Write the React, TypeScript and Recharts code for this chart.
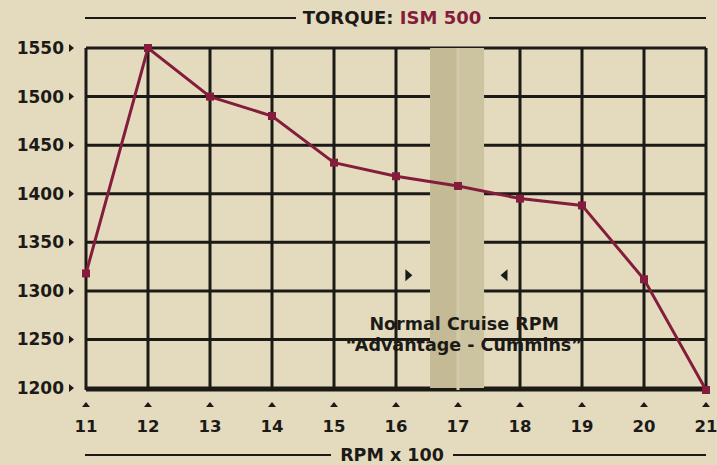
import React from "react";
import {
  CartesianGrid,
  Line,
  LineChart,
  ReferenceArea,
  ReferenceDot,
  ReferenceLine,
  XAxis,
  YAxis,
} from "recharts";

const rpm = [11, 12, 13, 14, 15, 16, 17, 18, 19, 20, 21];
const torque = [1318, 1550, 1500, 1480, 1432, 1418, 1408, 1395, 1388, 1312, 1198];
const yTicks = [1200, 1250, 1300, 1350, 1400, 1450, 1500, 1550];
const cruiseBand = [16.55, 17.42];
const cruiseLabel = ["Normal Cruise RPM", "\u201cAdvantage - Cummins\u201d"];

const data = rpm.map((r, i) => ({ rpm: r, torque: torque[i] }));

const BG = "#e4dbbf";
const INK = "#1c1a16";
const MAROON = "#841c3c";
const NUM_FONT = "'DejaVu Sans', sans-serif";

function YTick({ x, y, payload }: any) {
  return (
    <g>
      <text
        x={x - 14}
        y={y + 6}
        textAnchor="end"
        fontFamily={NUM_FONT}
        fontWeight="bold"
        fontSize={17}
        fill={INK}
      >
        {payload.value}
      </text>
      <path d={`M${x - 9},${y - 4} L${x - 4},${y} L${x - 9},${y + 4} Z`} fill={INK} />
    </g>
  );
}

function XTick({ x, y, payload }: any) {
  return (
    <g>
      <path d={`M${x - 4},${y + 9} L${x},${y + 4} L${x + 4},${y + 9} Z`} fill={INK} />
      <text
        x={x}
        y={y + 34}
        textAnchor="middle"
        fontFamily={NUM_FONT}
        fontWeight="bold"
        fontSize={16.5}
        fill={INK}
      >
        {payload.value}
      </text>
    </g>
  );
}

function SquareDot({ cx, cy }: any) {
  if (cx == null || cy == null) return null;
  return <rect x={cx - 4} y={cy - 4} width={8} height={8} fill={MAROON} />;
}

export default function App() {
  return (
    <div
      style={{
        position: "absolute",
        left: 0,
        top: 0,
        width: 717,
        height: 465,
        background: BG,
      }}
    >
      <svg width={717} height={465} style={{ position: "absolute", left: 0, top: 0 }}>
        <line x1={85} x2={296} y1={18} y2={18} stroke={INK} strokeWidth={2} />
        <line x1={489} x2={706} y1={18} y2={18} stroke={INK} strokeWidth={2} />
        <text
          x={392}
          y={24}
          textAnchor="middle"
          fontFamily={NUM_FONT}
          fontWeight="bold"
          fontSize={18}
          fill={INK}
        >
          TORQUE: <tspan fill={MAROON}>ISM 500</tspan>
        </text>
        <line x1={85} x2={331} y1={455} y2={455} stroke={INK} strokeWidth={2} />
        <line x1={453} x2={706} y1={455} y2={455} stroke={INK} strokeWidth={2} />
        <text
          x={392}
          y={461}
          textAnchor="middle"
          fontFamily={NUM_FONT}
          fontWeight="bold"
          fontSize={17.5}
          fill={INK}
        >
          RPM x 100
        </text>
      </svg>
      <div style={{ position: "absolute", left: 0, top: 0 }}>
        <LineChart
          width={717}
          height={465}
          data={data}
          margin={{ top: 48, right: 11, left: 0, bottom: 0 }}
        >
          <ReferenceArea
            x1={cruiseBand[0]}
            x2={17}
            y1={1200}
            y2={1550}
            fill="#c4bb96"
            fillOpacity={1}
            stroke="none"
          />
          <ReferenceArea
            x1={17}
            x2={cruiseBand[1]}
            y1={1200}
            y2={1550}
            fill="#ccc4a0"
            fillOpacity={1}
            stroke="none"
          />
          <CartesianGrid stroke={INK} strokeWidth={3} fill="none" />
          <ReferenceArea
            x1={cruiseBand[0]}
            x2={17}
            y1={1202.5}
            y2={1547.5}
            fill="#c4bb96"
            fillOpacity={1}
            stroke="none"
          />
          <ReferenceArea
            x1={17}
            x2={cruiseBand[1]}
            y1={1202.5}
            y2={1547.5}
            fill="#ccc4a0"
            fillOpacity={1}
            stroke="none"
          />
          <XAxis
            dataKey="rpm"
            type="number"
            domain={[11, 21]}
            ticks={rpm}
            height={75}
            axisLine={false}
            tickLine={false}
            tick={<XTick />}
          />
          <YAxis
            type="number"
            domain={[1200, 1550]}
            ticks={yTicks}
            width={86}
            axisLine={false}
            tickLine={false}
            tick={<YTick />}
          />
          <ReferenceLine
            x={17}
            segment={[
              { x: 17, y: 1202.5 },
              { x: 17, y: 1547.5 },
            ]}
            stroke="#d2caa8"
            strokeWidth={3}
          />
          <ReferenceDot
            x={16.2}
            y={1316}
            r={0}
            shape={(p: any) => (
              <path
                d={`M${p.cx - 3},${p.cy - 6} L${p.cx + 4},${p.cy} L${p.cx - 3},${p.cy + 6} Z`}
                fill={INK}
              />
            )}
          />
          <ReferenceDot
            x={17.75}
            y={1316}
            r={0}
            shape={(p: any) => (
              <path
                d={`M${p.cx + 3},${p.cy - 6} L${p.cx - 4},${p.cy} L${p.cx + 3},${p.cy + 6} Z`}
                fill={INK}
              />
            )}
          />
          <ReferenceDot
            x={17.1}
            y={1260}
            r={0}
            shape={(p: any) => (
              <text
                x={p.cx}
                y={p.cy}
                textAnchor="middle"
                fontFamily={NUM_FONT}
                fontWeight="bold"
                fontSize={17.5}
                fill={INK}
              >
                <tspan x={p.cx} dy={0}>
                  {cruiseLabel[0]}
                </tspan>
                <tspan x={p.cx} dy={21}>
                  {cruiseLabel[1]}
                </tspan>
              </text>
            )}
          />
          <Line
            type="linear"
            dataKey="torque"
            stroke={MAROON}
            strokeWidth={3}
            dot={<SquareDot />}
            activeDot={false}
            isAnimationActive={false}
          />
        </LineChart>
      </div>
    </div>
  );
}
